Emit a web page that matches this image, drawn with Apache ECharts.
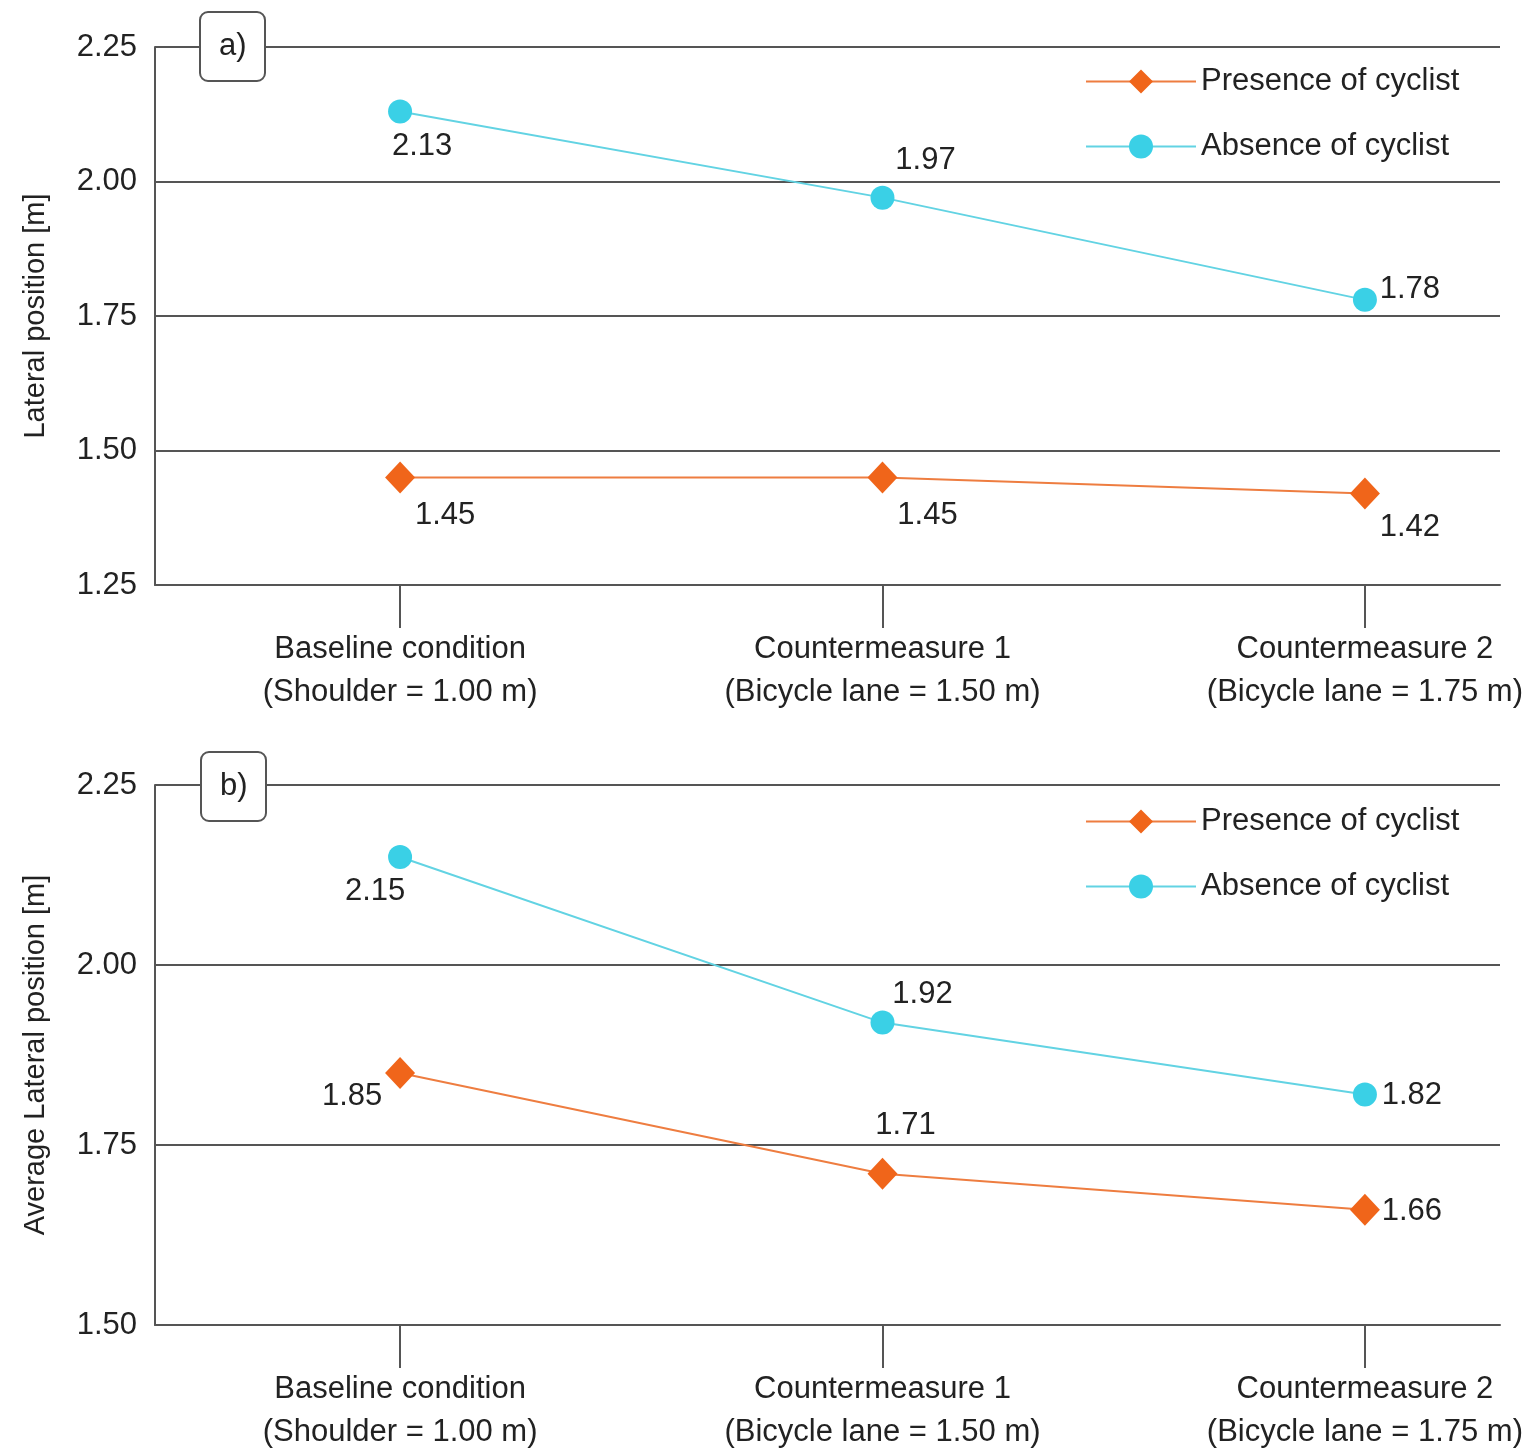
<!DOCTYPE html>
<html lang="en">
<head>
    <meta charset="UTF-8">
    <title>Lateral position</title>
    <script src="https://cdn.jsdelivr.net/npm/echarts@6.0.0/dist/echarts.min.js"></script>
    <style type="text/css">
        html, body { margin: 0; padding: 0; background: #fff; }
    </style>
</head>
<body>
<div id="main" style="width:1531px;height:1450px;"></div>
<script type="text/javascript">
    // categories on x
    var categories = [
        'Baseline condition\n(Shoulder = 1.00 m)',
        'Countermeasure 1\n(Bicycle lane = 1.50 m)',
        'Countermeasure 2\n(Bicycle lane = 1.75 m)'
    ];
    // a) lateral position
    var presenceA = [1.45, 1.45, 1.42];
    var absenceA = [2.13, 1.97, 1.78];
    // b) average lateral position
    var presenceB = [1.85, 1.71, 1.66];
    var absenceB = [2.15, 1.92, 1.82];

    var FONT = "'Liberation Sans', Arial, sans-serif";
    var FS = 31;
    var ORANGE = '#f0651a';
    var CYAN = '#3ad0e6';

    // label offsets (from point center), per chart / series
    var offA_pres = [[45, 38], [45, 38], [45, 34]];
    var offA_abs = [[22, 35], [43, -37], [45, -10]];
    var offB_pres = [[-48, 23], [23, -48], [47, 2]];
    var offB_abs = [[-25, 34], [40, -28], [47, 1]];

    function pts(vals, offs) {
        return vals.map(function (v, i) {
            return {
                value: [i, v],
                label: { offset: offs[i] }
            };
        });
    }

    var myChart = echarts.init(document.getElementById('main'));

    function xAxisOf(idx) {
        return {
            type: 'value',
            gridIndex: idx,
            min: -0.508,
            max: 2.28,
            axisLine: { show: true, onZero: false, lineStyle: { color: '#555', width: 2 } },
            axisTick: { show: true, customValues: [0, 1, 2], length: 43, lineStyle: { color: '#555', width: 2 } },
            axisLabel: {
                customValues: [0, 1, 2],
                formatter: function (v) { return categories[Math.round(v)]; },
                margin: 43,
                fontFamily: FONT,
                fontSize: FS,
                lineHeight: 43,
                color: '#222'
            },
            splitLine: { show: false }
        };
    }

    function yAxisOf(idx, min, name) {
        return {
            type: 'value',
            gridIndex: idx,
            min: min,
            max: 2.25,
            interval: 0.25,
            name: name,
            nameLocation: 'middle',
            nameGap: 105,
            nameTextStyle: { fontFamily: FONT, fontSize: 29, color: '#222' },
            axisLine: { show: true, onZero: false, lineStyle: { color: '#555', width: 2 } },
            axisTick: { show: false },
            axisLabel: {
                formatter: function (v) { return v.toFixed(2); },
                margin: 18,
                fontFamily: FONT,
                fontSize: FS,
                color: '#222'
            },
            splitLine: { show: true, lineStyle: { color: '#555', width: 2 } }
        };
    }

    function seriesOf(name, vals, offs, idx, isPresence) {
        return {
            name: name,
            type: 'line',
            xAxisIndex: idx,
            yAxisIndex: idx,
            data: pts(vals, offs),
            symbol: isPresence ? 'diamond' : 'circle',
            symbolSize: isPresence ? [30, 32] : 24,
            itemStyle: { color: isPresence ? ORANGE : CYAN },
            lineStyle: { color: isPresence ? '#ee7d40' : '#62d3e3', width: 2 },
            label: {
                show: true,
                position: 'inside',
                formatter: function (p) { return p.value[1].toFixed(2); },
                fontFamily: FONT,
                fontSize: FS,
                color: '#222'
            },
            z: 3
        };
    }

    function legendOf(top) {
        return {
            orient: 'vertical',
            left: 1080,
            top: top,
            itemWidth: 110,
            itemHeight: 30,
            itemGap: 34,
            data: ['Presence of cyclist', 'Absence of cyclist'],
            textStyle: { fontFamily: FONT, fontSize: FS, color: '#222' }
        };
    }

    function boxTitle(text, left, top) {
        return {
            text: text,
            left: left,
            top: top,
            padding: [19, 19, 19, 19],
            borderColor: '#555',
            borderWidth: 2,
            borderRadius: 8,
            backgroundColor: '#fff',
            textStyle: { fontFamily: FONT, fontSize: FS, fontWeight: 'normal', color: '#222' }
        };
    }

    var option = {
        animation: false,
        backgroundColor: '#fff',
        title: [boxTitle('a)', 200, 12), boxTitle('b)', 201, 752)],
        legend: [legendOf(61), legendOf(801)],
        grid: [
            { left: 155, right: 31, top: 47, bottom: 865, outerBoundsMode: 'none' },
            { left: 155, right: 31, top: 785, bottom: 125, outerBoundsMode: 'none' }
        ],
        xAxis: [xAxisOf(0), xAxisOf(1)],
        yAxis: [
            yAxisOf(0, 1.25, 'Lateral position [m]'),
            yAxisOf(1, 1.5, 'Average Lateral position [m]')
        ],
        series: [
            seriesOf('Presence of cyclist', presenceA, offA_pres, 0, true),
            seriesOf('Absence of cyclist', absenceA, offA_abs, 0, false),
            seriesOf('Presence of cyclist', presenceB, offB_pres, 1, true),
            seriesOf('Absence of cyclist', absenceB, offB_abs, 1, false)
        ]
    };

    myChart.setOption(option);
</script>
</body>
</html>
